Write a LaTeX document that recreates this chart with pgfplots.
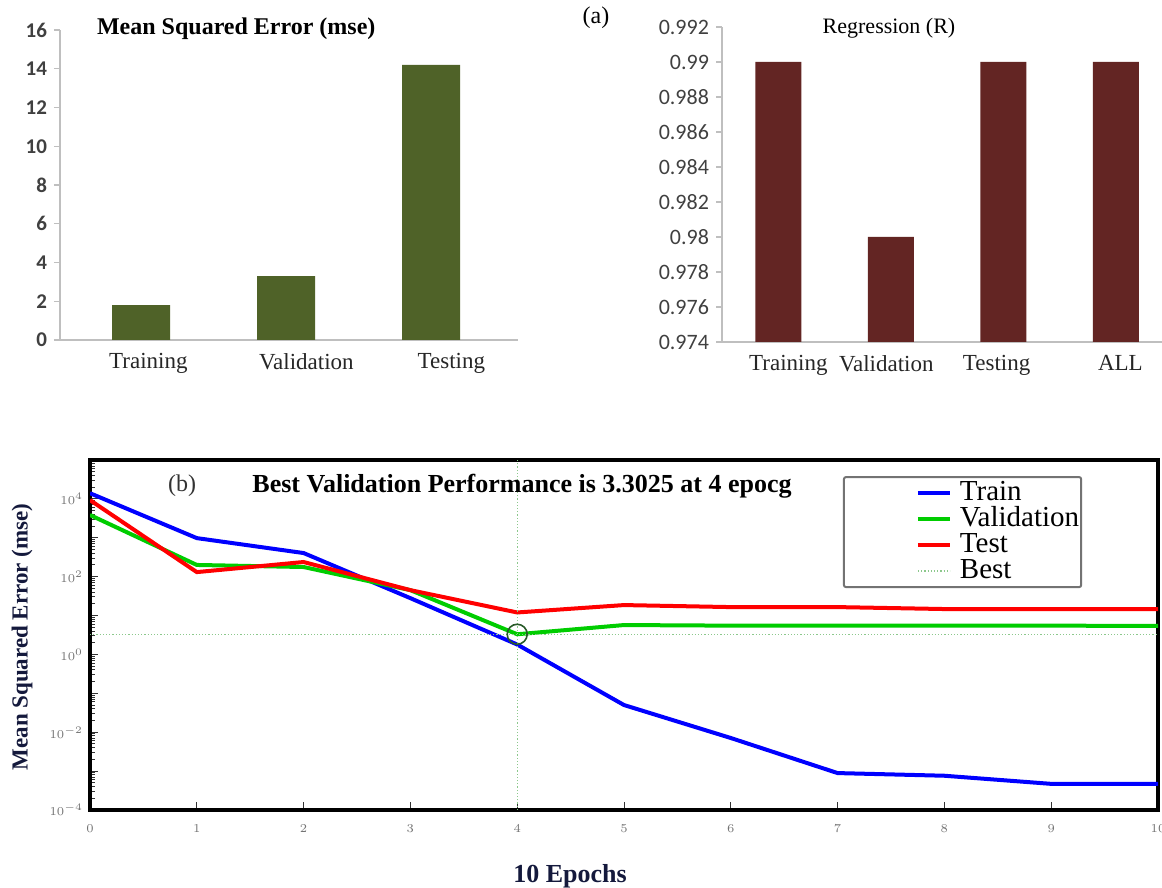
\documentclass[border=0pt]{standalone}
\usepackage{pgfplots}
\pgfplotsset{compat=1.18}
\usepackage{fontspec}
\setmainfont{Liberation Serif}
\newfontfamily\calibri{Carlito}
\definecolor{barolive}{RGB}{79,98,40}
\definecolor{barred}{RGB}{99,37,35}
\definecolor{axgray}{RGB}{191,191,191}
\definecolor{lblgray}{RGB}{64,64,64}
\definecolor{mblue}{RGB}{0,0,255}
\definecolor{mgreen}{RGB}{0,205,0}
\definecolor{mred}{RGB}{255,0,0}
\definecolor{bestgreen}{RGB}{140,200,140}
\definecolor{circgreen}{RGB}{40,90,40}
\definecolor{navy}{RGB}{20,25,60}
\begin{document}
\begin{tikzpicture}[x=1pt,y=1pt]
\path[use as bounding box] (0,0) rectangle (581,444);

% ---------- top-left: MSE bars ----------
\begin{axis}[
  at={(30pt,274pt)}, anchor=south west,
  width=229pt, height=155pt, scale only axis,
  xmin=-0.56, xmax=2.6, ymin=0, ymax=16,
  axis x line=bottom, axis y line=left,
  axis line style={-, draw=axgray, line width=0.6pt},
  ytick={0,2,...,16},
  tick align=outside, major tick length=3pt,
  ytick style={draw=axgray, line width=0.6pt},
  xtick style={draw=none},
  xtick={0.05,1.14,2.14},
  xticklabels={Training,Validation,Testing},
  xticklabel style={font=\fontsize{11.5}{12}\selectfont, text=black!85},
  yticklabel style={font=\calibri\bfseries\fontsize{10.5}{12}\selectfont, text=lblgray},
  /pgf/number format/assume math mode=true,
  clip=false,
]
\addplot[ybar, bar width=29pt, fill=barolive, draw=none] coordinates {(0,1.8) (1,3.3) (2,14.2)};
\end{axis}
\node[anchor=west, font=\bfseries\fontsize{12}{14}\selectfont] at (45,429.5) {Mean Squared Error (mse)};
\node[font=\fontsize{12}{14}\selectfont] at (298,435) {(a)};

% ---------- top-right: Regression bars ----------
\begin{axis}[
  at={(361pt,273pt)}, anchor=south west,
  width=220pt, height=157.5pt, scale only axis,
  xmin=-0.5, xmax=3.41, ymin=0.974, ymax=0.992,
  axis x line=bottom, axis y line=left,
  axis line style={-, draw=axgray, line width=0.6pt},
  ytick={0.974,0.976,0.978,0.98,0.982,0.984,0.986,0.988,0.99,0.992},
  yticklabels={0.974,0.976,0.978,0.98,0.982,0.984,0.986,0.988,0.99,0.992},
  tick align=outside, major tick length=3pt,
  ytick style={draw=axgray, line width=0.6pt},
  xtick style={draw=none},
  xtick={0.09,0.96,1.94,3.04},
  xticklabels={Training,Validation,Testing,ALL},
  xticklabel style={font=\fontsize{11.5}{12}\selectfont, text=black!85},
  yticklabel style={font=\calibri\fontsize{11}{12}\selectfont, text=lblgray},
]
\addplot[ybar, bar width=23pt, fill=barred, draw=none] coordinates {(0,0.99) (1,0.98) (2,0.99) (3,0.99)};
\end{axis}
\node[font=\fontsize{11}{13}\selectfont] at (444.5,430) {Regression (R)};

% ---------- bottom: performance curve ----------
\begin{axis}[
  at={(45pt,39pt)}, anchor=south west,
  width=534pt, height=175pt, scale only axis,
  xmin=0, xmax=10, ymode=log, ymin=1e-4, ymax=1e5,
  xtick={0,1,...,10},
  ytick={1e-4,1e-3,1e-2,1e-1,1,10,100,1e3,1e4,1e5},
  yticklabels={$10^{-4}$,,$10^{-2}$,,$10^{0}$,,$10^{2}$,,$10^{4}$,},
  tick pos=left, tick align=inside,
  major tick length=4pt, minor tick length=2.5pt,
  tick style={black!80, line width=0.5pt},
  axis line style={line width=2pt},
  ticklabel style={font=\fontsize{6}{7}\selectfont, text=black!55},
  xticklabel style={yshift=-4pt},
  legend style={at={(0.705,0.954)}, anchor=north west,
    draw=black!55, line width=1pt, rounded corners=1pt,
    font=\fontsize{14.5}{14.5}\selectfont,
    inner xsep=1pt, inner ysep=2pt, row sep=1pt,
    nodes={inner sep=0pt, text height=9.5pt, text depth=2.5pt}},
  legend cell align=left,
  legend image code/.code={\path[draw=none] (0pt,0pt) (57pt,0pt); \draw[#1] (36pt,0pt) -- (52pt,0pt);},
]
\addplot[mblue, line width=2pt] coordinates {
(0,14000) (1,980) (2,405) (3,28) (4,1.8) (5,0.05) (6,0.0071) (7,0.00089) (8,0.00076) (9,0.00047) (10,0.00047)};
\addlegendentry{Train}
\addplot[mgreen, line width=2pt] coordinates {
(0,3850) (1,200) (2,177) (3,45) (4,3.3025) (5,5.7) (6,5.5) (7,5.5) (8,5.5) (9,5.5) (10,5.4)};
\addlegendentry{Validation}
\addplot[mred, line width=2pt] coordinates {
(0,9300) (1,131) (2,238) (3,45) (4,12) (5,18.6) (6,16.5) (7,16.5) (8,14.7) (9,14.7) (10,14.7)};
\addlegendentry{Test}
\addplot[bestgreen, densely dotted, line width=0.6pt] coordinates {(0,3.3025) (10,3.3025)};
\addlegendentry{Best}
\addplot[bestgreen, densely dotted, line width=0.6pt, forget plot] coordinates {(4,1e-4) (4,1e5)};
\addplot[only marks, mark=o, mark size=5pt, circgreen, line width=0.8pt, forget plot] coordinates {(4,3.3025)};
\end{axis}
\node[font=\fontsize{12}{14}\selectfont, text=black!80] at (91,201) {(b)};
\node[anchor=west, font=\bfseries\fontsize{13}{15}\selectfont] at (122.7,201) {Best Validation Performance is 3.3025 at 4 epocg};
\node[rotate=90, font=\bfseries\fontsize{11.5}{13}\selectfont, text=navy] at (11,125.5) {Mean Squared Error (mse)};
\node[font=\bfseries\fontsize{13}{15}\selectfont, text=navy] at (285,6) {10 Epochs};
\end{tikzpicture}
\end{document}
